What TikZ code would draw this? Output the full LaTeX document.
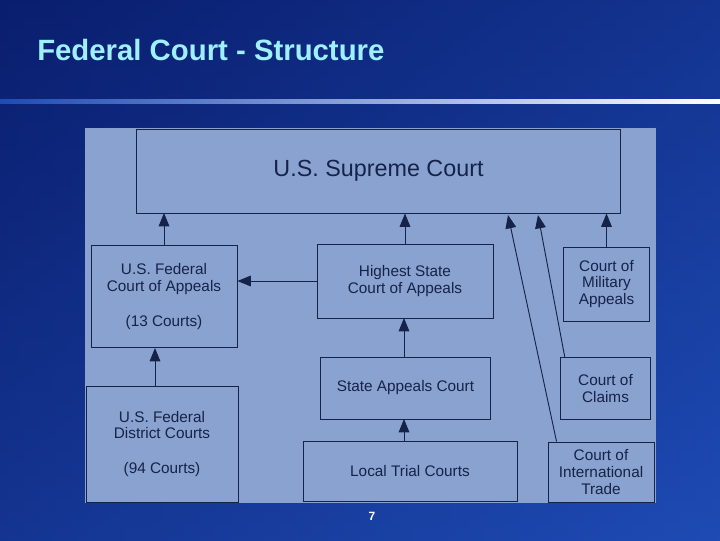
\documentclass[tikz,border=0pt]{standalone}
\usepackage{fontspec}
\setmainfont{Liberation Sans}
\usetikzlibrary{arrows.meta}
\definecolor{bgdark}{HTML}{0A1E6E}
\definecolor{bgmid}{HTML}{1E4BB4}
\definecolor{panel}{HTML}{8AA2CF}
\definecolor{ink}{HTML}{15234A}
\definecolor{titlec}{HTML}{9FF0FF}
\tikzset{
 box/.style={draw=ink,line width=0.7pt,align=center,text=ink,font=\fontsize{11.5}{12.5}\selectfont,inner sep=0pt},
 arr/.style={draw=ink,line width=0.7pt,-{Triangle[length=10pt,width=8pt]}}
}
\begin{document}
\begin{tikzpicture}[x=0.75pt,y=-0.75pt]
\useasboundingbox (0,0) rectangle (720,540);
\shade[left color=bgdark,right color=bgmid] (0,0) rectangle (720,540);
\shade[top color=bgdark,bottom color=bgmid,opacity=0.5] (0,0) rectangle (720,540);
\node[anchor=west,text=titlec,font=\fontsize{22}{25}\selectfont\bfseries,inner sep=0pt] (title) at (37,50) {Federal Court - Structure};
\shade[left color=bgmid,right color=white] (0,99) rectangle (720,103);
\fill[panel] (85,128) rectangle (656,503);
\node[box,minimum width=363pt,minimum height=63pt,font=\fontsize{17.5}{20}\selectfont] (sup) at (378.5,171) {U.S. Supreme Court};
\node[box,minimum width=109.5pt,minimum height=77pt] (fed) at (164,296.5) {U.S. Federal\\Court of Appeals\\[1.2em](13 Courts)};
\node[box,minimum width=132pt,minimum height=55.5pt] (hsc) at (405,281) {Highest State\\Court of Appeals};
\node[box,minimum width=65pt,minimum height=55.5pt] (mil) at (606.5,284) {Court of\\Military\\Appeals};
\node[box,minimum width=127pt,minimum height=46.5pt] (sac) at (405.5,388) {State Appeals Court};
\node[box,minimum width=68pt,minimum height=47pt] (clm) at (605.5,388.5) {Court of\\Claims};
\node[box,minimum width=114pt,minimum height=87pt] (dist) at (162,444) {U.S. Federal\\District Courts\\[1.2em](94 Courts)};
\node[box,minimum width=160.5pt,minimum height=45.5pt] (loc) at (410,471.5) {Local Trial Courts};
\node[box,minimum width=79.5pt,minimum height=45pt] (itl) at (601,472) {Court of\\International\\Trade};
\node[text=white,font=\fontsize{9}{10}\selectfont\bfseries] (pg) at (372,516) {7};
\draw[arr] (fed.north -| 164,0) -- (164,213);
\draw[arr] (hsc.north) -- (sup.south -| hsc.north);
\draw[arr] (mil.north) -- (sup.south -| mil.north);
\draw[arr] (hsc.west) -- (fed.east |- hsc.west);
\draw[arr] (sac.north -| 404,0) -- (404,318);
\draw[arr] (dist.north -| 155,0) -- (155,348);
\draw[arr] (loc.north -| 404,0) -- (404,419);
\coordinate (c1) at (538,215);
\coordinate (c2) at (508,215);
\draw[arr] (clm.north west) ++(5,0) -- (c1);
\draw[arr] (itl.north west) ++(9,0) -- (c2);
\end{tikzpicture}
\end{document}
